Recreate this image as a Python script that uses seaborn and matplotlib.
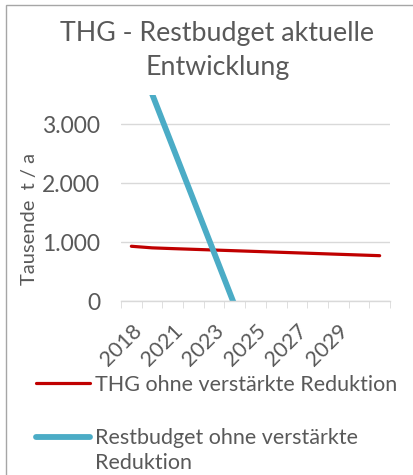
#Importing the necessary libraries
import matplotlib
matplotlib.use('Agg')
import matplotlib.pyplot as plt
import matplotlib.patches as patches
import pandas as pd
import seaborn as sns

#Data
years = ['2018', '2020', '2021', '2022', '2023', '2024', '2025',
         '2026', '2027', '2028', '2029', '2030', '2031']
thg = [930, 903, 890, 878, 866, 854, 842, 830, 818, 806, 794, 782, 770]
restbudget = [4420, 3520, 2620, 1720, 820, -80, -935, -1780, -2615, -3440,
              -4255, -5060, -5855]
yticks = [0, 1000, 2000, 3000]
ytick_labels = ['0', '1.000', '2.000', '3.000']
shown_years = ['2018', '2021', '2023', '2025', '2027', '2029']

sns.set_style('white')
plt.rcParams['font.family'] = ['Lato', 'DejaVu Sans']

TEXT = '#595959'
RED = '#C00000'
BLUE = '#4BACC6'
W, H = 414, 475

df = pd.DataFrame({'pos': range(len(years)), 'year': years,
                   'thg': thg, 'rest': restbudget})

fig = plt.figure(figsize=(W / 100, H / 100), dpi=100)
ax = fig.add_axes([121 / W, 1 - 301 / H, 269 / W, 206 / H])

sns.lineplot(data=df, x='pos', y='thg', color=RED, linewidth=2.3, ax=ax,
             label='THG ohne verstärkte Reduktion')
sns.lineplot(data=df, x='pos', y='rest', color=BLUE, linewidth=4.2, ax=ax,
             label='Restbudget ohne verstärkte')

ax.set_xlim(-0.5, len(years) - 0.5)
ax.set_ylim(0, 3500)

#Gridlines and axis
ax.set_yticks(yticks)
ax.set_yticklabels(ytick_labels)
ax.grid(axis='y', color='#D9D9D9', linewidth=1)
ax.grid(axis='x', visible=False)
for s in ['left', 'right', 'top']:
    ax.spines[s].set_visible(False)
ax.spines['bottom'].set_color('#D9D9D9')
ax.spines['bottom'].set_linewidth(1)

#category ticks between the categories, labels every second category
ax.set_xticks([p - 0.5 for p in range(len(years) + 1)], minor=True)
ax.set_xticks([years.index(y) for y in shown_years])
ax.set_xticklabels(shown_years, rotation=45, ha='right',
                   rotation_mode='anchor')
ax.tick_params(axis='x', which='minor', length=5, color='#D9D9D9',
               direction='out', bottom=True)
ax.tick_params(axis='x', which='major', length=0, pad=14, labelsize=15.5,
               labelcolor=TEXT)
ax.tick_params(axis='y', length=0, pad=15, labelsize=16.5, labelcolor=TEXT)

ax.set_xlabel('')
ax.set_ylabel('Tausende  t / a', fontsize=14.5, color=TEXT)
ax.yaxis.set_label_coords(-0.31, 0.40)

fig.text(0.525, 0.955, 'THG - Restbudget aktuelle\nEntwicklung', ha='center',
         va='top', fontsize=19.3, color=TEXT, linespacing=1.45)

leg = ax.legend(loc='upper left', bbox_to_anchor=(36 / W, 1 - 375 / H),
                bbox_transform=fig.transFigure, frameon=False, fontsize=15.5,
                handlelength=2.5, handletextpad=0.25, labelspacing=1.55,
                borderpad=0, borderaxespad=0)
for t in leg.get_texts():
    t.set_color(TEXT)

#second line of the blue legend label, placed under the first line
fig.canvas.draw()
bb = leg.get_texts()[1].get_window_extent()
fig.text(bb.x0 / W, (bb.y0 - 5) / H, 'Reduktion', ha='left', va='top',
         fontsize=15.5, color=TEXT)

#chart border
fig.add_artist(patches.Rectangle((6 / W, -0.1), 1.1, 1.1 - 5 / H,
                                 transform=fig.transFigure, fill=False,
                                 edgecolor='#A6A6A6', linewidth=1))

plt.savefig('out.png', dpi=100)
